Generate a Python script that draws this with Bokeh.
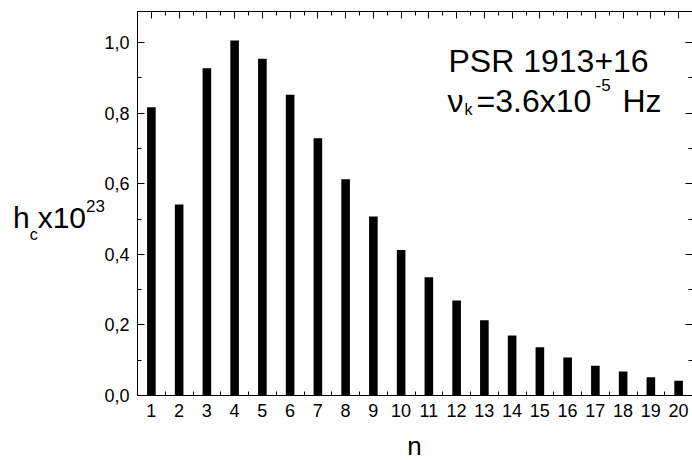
from bokeh.plotting import figure
from bokeh.models import (Range1d, FixedTicker, LinearAxis, Label, CustomJSTickFormatter,
                          Div, InlineStyleSheet)
from bokeh.layouts import row, column
from bokeh.embed import file_html
from bokeh.resources import INLINE

# ---- data ----
n = list(range(1, 21))
hc = [0.817, 0.541, 0.927, 1.006, 0.954, 0.852, 0.729, 0.613, 0.507, 0.412,
      0.335, 0.269, 0.213, 0.170, 0.137, 0.108, 0.084, 0.068, 0.052, 0.042]
x_ticks = n
x_minor_ticks = [k + 0.5 for k in range(0, 21)]
y_ticks = [0.0, 0.2, 0.4, 0.6, 0.8, 1.0]
y_minor_ticks = [0.0, 0.1, 0.2, 0.3, 0.4, 0.5, 0.6, 0.7, 0.8, 0.9, 1.0]
x_label = "n"
title_text = "PSR 1913+16"

# ---- layout (page pixels) ----
FONT = "Liberation Sans"
X0, X1 = 0.5, 20.5
Y0, Y1 = 0.0, 1.088
PAGE_W, PAGE_H = 692, 460
DIVW = 95
NDIV_H = 30
W, H = PAGE_W - DIVW, PAGE_H - NDIV_H
FRAME_L, FRAME_T, FRAME_B = 137, 11, 395
ML, MR, MT, MB = FRAME_L - DIVW, 0, FRAME_T, H - FRAME_B
FW = W - ML - MR
FH = H - MT - MB


def dx(px):  # page pixel -> data x
    return X0 + (px - FRAME_L) / FW * (X1 - X0)


def dy(py):  # page pixel (from top) -> data y
    return Y0 + (FRAME_B - py) / FH * (Y1 - Y0)


p = figure(width=W, height=H, x_range=Range1d(X0, X1), y_range=Range1d(Y0, Y1),
           output_backend="svg", toolbar_location=None,
           min_border_left=ML, min_border_right=MR, min_border_top=MT, min_border_bottom=MB)
p.outline_line_color = None
p.xgrid.grid_line_color = None
p.ygrid.grid_line_color = None
p.background_fill_color = "white"
p.border_fill_color = None

p.vbar(x=n, top=hc, width=0.31, bottom=0, fill_color="black", line_color=None)

xt = FixedTicker(ticks=x_ticks, minor_ticks=x_minor_ticks)
yt = FixedTicker(ticks=y_ticks, minor_ticks=y_minor_ticks)

bottom = p.below[0]
left = p.left[0]
bottom.ticker = xt
left.ticker = yt
left.formatter = CustomJSTickFormatter(code="return tick.toFixed(1).replace('.', ',');")

top = LinearAxis(ticker=xt, formatter=CustomJSTickFormatter(code="return '';"))
right = LinearAxis(ticker=yt, formatter=CustomJSTickFormatter(code="return '';"))
p.add_layout(top, "above")
p.add_layout(right, "right")

for ax in [bottom, left, top, right]:
    ax.axis_line_color = "black"
    ax.axis_line_width = 1
    ax.major_tick_line_color = "black"
    ax.minor_tick_line_color = "black"
    ax.major_tick_in = 7
    ax.major_tick_out = 0
    ax.minor_tick_in = 4
    ax.minor_tick_out = 0
    ax.major_label_text_font = FONT
    ax.major_label_text_font_size = "18px"
    ax.major_label_text_color = "black"

for ax in [top, right]:
    ax.major_label_standoff = 0
    ax.major_label_text_font_size = "0px"
right.axis_line_color = None   # frame edge is cut off in the reference

left.major_label_standoff = 8
bottom.major_label_standoff = 8


def lab(text, px, py, size):
    p.add_layout(Label(x=dx(px), y=dy(py), text=text, text_font=FONT,
                       text_font_size=size, text_color="black",
                       text_align="left", text_baseline="alphabetic"))


# annotation
lab(title_text, 448, 60, "32px")
lab("\u03bd", 447, 100, "32px")
lab("k", 464, 109, "16px")
lab("=3.6x10", 476, 100, "32px")
lab("-5", 595, 84, "17px")
lab("Hz", 622, 100, "32px")

visible = InlineStyleSheet(css=":host { overflow: visible !important; }")

# y-axis label: h_c x10^23 (HTML text, left of the plot)
ylabel_html = (
    "<div style=\"margin:0; padding-top:203px; padding-left:13px; white-space:nowrap;"
    " font-family:'Liberation Sans'; font-size:30px; line-height:30px; color:black;\">"
    "h<span style=\"font-size:16px; position:relative; top:12px;\">c</span>"
    "x10<span style=\"font-size:17px; position:relative; top:-16px;\">23</span></div>"
)
ydiv = Div(text=ylabel_html, width=DIVW, height=PAGE_H,
           styles={"margin": "0", "padding": "0", "overflow": "visible"},
           stylesheets=[visible])

# x-axis label "n" centred under the frame
xlabel_html = (
    f"<div style=\"margin:0 0 0 {ML}px; width:{FW}px; padding-top:6px; text-align:center;"
    " font-family:'Liberation Sans'; font-size:26px; line-height:20px; color:black;\">"
    f"{x_label}</div>"
)
ndiv = Div(text=xlabel_html, width=W, height=NDIV_H,
           styles={"margin": "0", "padding": "0", "overflow": "visible"},
           stylesheets=[visible])

layout = row(ydiv, column(p, ndiv))
open("out.html", "w").write(file_html(layout, INLINE))
